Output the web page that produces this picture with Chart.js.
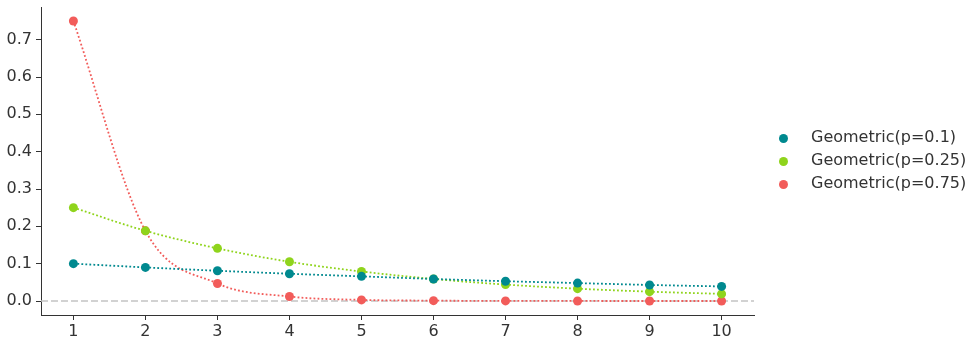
<!DOCTYPE html>
<html>
<head>
<meta charset="utf-8">
<script src="https://cdn.jsdelivr.net/npm/chart.js@4/dist/chart.umd.min.js"></script>
<style>
  html, body { margin: 0; padding: 0; background: #fff; }
  #wrap { position: relative; width: 979px; height: 347px; }
  #legend { position: absolute; left: 774px; top: 125px; font-family: "DejaVu Sans", sans-serif; font-size: 16px; color: #333; }
  #legend div { height: 23px; line-height: 23px; white-space: nowrap; }
  #legend span.dot { display: inline-block; width: 9px; height: 9px; border-radius: 50%; margin: 0 23px 0 5px; vertical-align: -1px; }
</style>
</head>
<body>
<div id="wrap">
  <canvas id="chart" width="979" height="347"></canvas>
  <div id="legend"></div>
</div>
<script>
const trials = [1, 2, 3, 4, 5, 6, 7, 8, 9, 10];
const seriesNames = ['Geometric(p=0.1)', 'Geometric(p=0.25)', 'Geometric(p=0.75)'];
const p10 = [0.100, 0.090, 0.081, 0.073, 0.066, 0.059, 0.053, 0.048, 0.043, 0.039];
const p25 = [0.250, 0.188, 0.141, 0.105, 0.079, 0.059, 0.044, 0.033, 0.025, 0.019];
const p75 = [0.750, 0.188, 0.047, 0.012, 0.003, 0.001, 0.0002, 0.0001, 0.0, 0.0];
const xTicks = [1, 2, 3, 4, 5, 6, 7, 8, 9, 10];
const yTicks = [0.0, 0.1, 0.2, 0.3, 0.4, 0.5, 0.6, 0.7];
const colors = ['#00898f', '#8fd41c', '#f25c5a'];

const allSeries = [p10, p25, p75];

// grey dashed baseline at y = 0
const zeroLine = {
    id: 'zeroLine',
    beforeDatasetsDraw(chart) {
        const { ctx, chartArea, scales } = chart;
        const y = scales.y.getPixelForValue(0);
        ctx.save();
        ctx.strokeStyle = '#c4c4c4';
        ctx.lineWidth = 1.6;
        ctx.setLineDash([7, 3]);
        ctx.beginPath();
        ctx.moveTo(chartArea.left, y);
        ctx.lineTo(chartArea.right, y);
        ctx.stroke();
        ctx.restore();
    }
};

const datasets = allSeries.map((vals, i) => ({
    label: seriesNames[i],
    data: vals.map((v, j) => ({ x: trials[j], y: v })),
    borderColor: colors[i],
    backgroundColor: colors[i],
    borderWidth: 1.8,
    borderDash: [1.8, 2.2],
    pointRadius: 4.5,
    pointBorderWidth: 0,
    pointBackgroundColor: colors[i],
    cubicInterpolationMode: 'monotone',
    fill: false
}));

Chart.defaults.font.family = '"DejaVu Sans", sans-serif';
Chart.defaults.color = '#333';

new Chart(document.getElementById('chart'), {
    type: 'line',
    data: { datasets: datasets },
    plugins: [zeroLine],
    options: {
        responsive: false,
        animation: false,
        layout: { padding: { top: 7, right: 225, left: 0, bottom: 0 } },
        plugins: { legend: { display: false }, tooltip: { enabled: false } },
        scales: {
            x: {
                type: 'linear',
                min: 0.55,
                max: 10.45,
                afterFit(scale) { scale.height = 32; scale.paddingLeft = 0; scale.paddingRight = 0; },
                afterBuildTicks(scale) { scale.ticks = xTicks.map(v => ({ value: v })); },
                grid: { drawOnChartArea: false, tickLength: 5, color: '#333', tickWidth: 1 },
                border: { color: '#333', width: 1 },
                ticks: { font: { size: 16 }, color: '#333', padding: 2, maxRotation: 0,
                    callback: v => String(v) }
            },
            y: {
                type: 'linear',
                min: -0.0375,
                max: 0.7875,
                afterFit(scale) { scale.width = 41; scale.paddingTop = 0; scale.paddingBottom = 0; },
                afterBuildTicks(scale) { scale.ticks = yTicks.map(v => ({ value: v })); },
                grid: { drawOnChartArea: false, tickLength: 5, color: '#333', tickWidth: 1 },
                border: { color: '#333', width: 1 },
                ticks: { font: { size: 16 }, color: '#333', padding: 4,
                    callback: v => v.toFixed(1) }
            }
        }
    }
});

const legend = document.getElementById('legend');
seriesNames.forEach((name, i) => {
    const row = document.createElement('div');
    const dot = document.createElement('span');
    dot.className = 'dot';
    dot.style.background = colors[i];
    row.appendChild(dot);
    row.appendChild(document.createTextNode(name));
    legend.appendChild(row);
});
</script>
</body>
</html>
